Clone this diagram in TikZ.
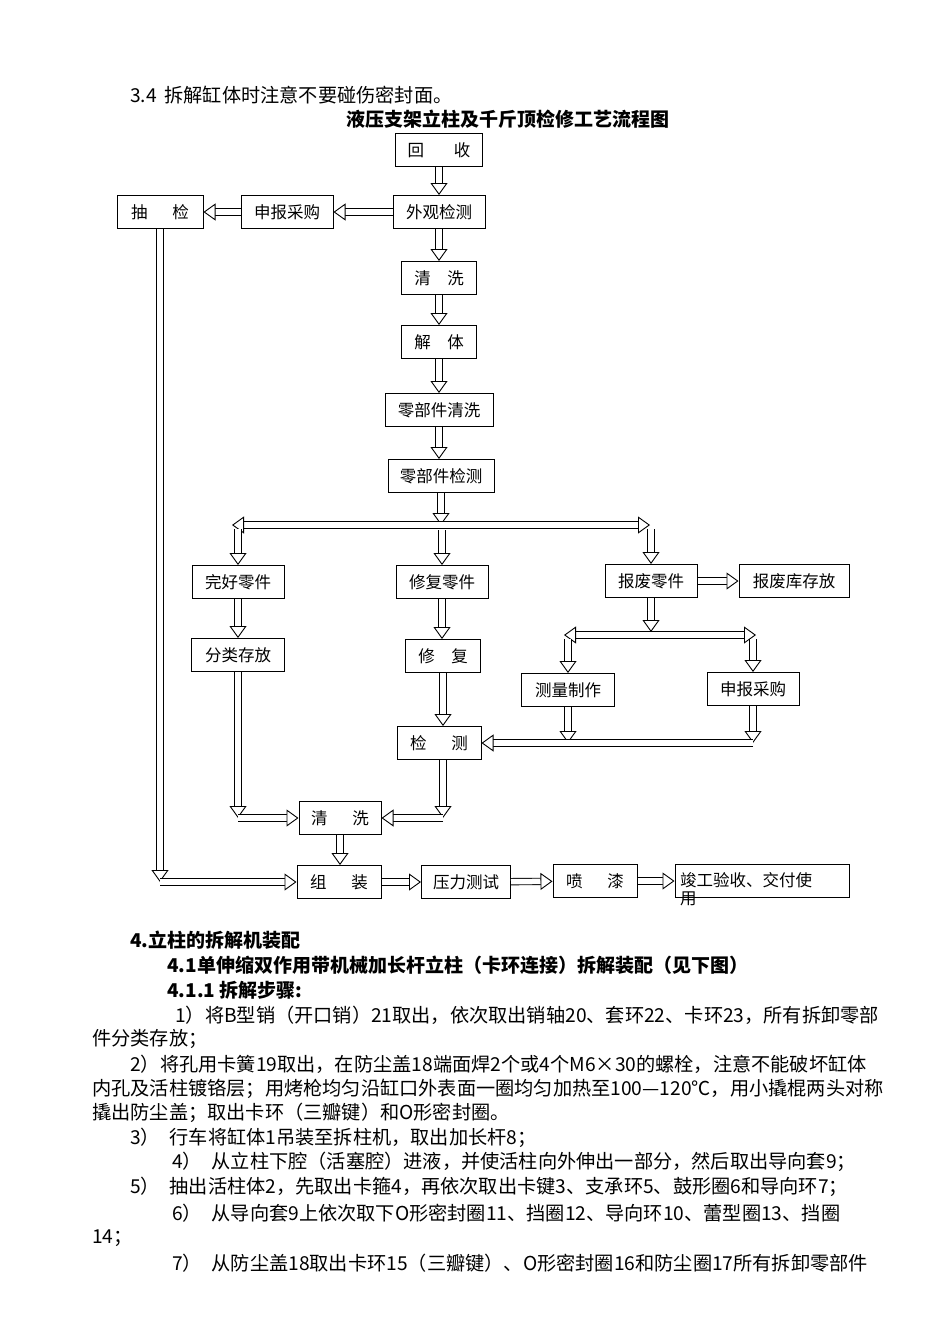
\documentclass[tikz,border=0pt]{standalone}
\usepackage{fontspec}
\setmainfont{Noto Sans CJK SC}
\usepackage{tikz}
\usetikzlibrary{arrows.meta, positioning}

\begin{document}
\begin{tikzpicture}[x=1pt, y=-1pt,
            >={Triangle[open, fill=white, line width=0.9pt, length=12pt, width=17pt]},
            box/.style={draw, line width=1pt, minimum height=33pt, inner sep=2pt, font=\fontsize{16.5}{20}\selectfont},
            harrow/.style={double, double distance=5.5pt, line width=0.9pt, ->},
            hharrow/.style={double, double distance=5.5pt, line width=0.9pt, <->},
            para/.style={anchor=west, inner sep=0pt, font=\fontsize{19.2}{25}\selectfont},
            head/.style={para, font=\bfseries\fontsize{19}{25}\selectfont},
        ]
        \fill[white] (0,0) rectangle (950,1344);
        \useasboundingbox (0,0) rectangle (950,1344);
        % text above
        \node[para] (t34) at (130,95) {3.4\hspace{0.4em}拆解缸体时注意不要碰伤密封面。};
        \node[font=\bfseries\fontsize{19}{23}\selectfont] (title) at (508,119) {液压支架立柱及千斤顶检修工艺流程图};
        % main column
        \node[box, minimum width=87pt] (huishou) at (439,150) {回\hspace{1.8em}收};
        \node[box, minimum width=92pt] (waiguan) at (439,212) {外观检测};
        \node[box, minimum width=92pt] (shenbaoA) at (287,212) {申报采购};
        \node[box, minimum width=86pt] (choujian) at (160,212) {抽\hspace{1.5em}检};
        \node[box, minimum width=75pt] (qingxiA) at (439,278) {清\hspace{1em}洗};
        \node[box, minimum width=75pt] (jieti) at (439,342) {解\hspace{1em}体};
        \node[box, minimum width=108pt] (ljqingxi) at (439,410) {零部件清洗};
        \node[box, minimum width=106pt] (ljjiance) at (441,476) {零部件检测};
        % branches
        \node[box, minimum width=92pt] (wanhao) at (238,582) {完好零件};
        \node[box, minimum width=92pt] (xiufulj) at (442,582) {修复零件};
        \node[box, minimum width=92pt] (baofei) at (651,581) {报废零件};
        \node[box, minimum width=110pt] (baofeiku) at (794,581) {报废库存放};
        \node[box, minimum width=93pt] (fenlei) at (238,655) {分类存放};
        \node[box, minimum width=75pt] (xiufu) at (443,656) {修\hspace{1em}复};
        \node[box, minimum width=93pt] (celiang) at (568,690) {测量制作};
        \node[box, minimum width=92pt] (shenbaoB) at (753,689) {申报采购};
        \node[box, minimum width=84pt] (jiance) at (439,743) {检\hspace{1.5em}测};
        \node[box, minimum width=82pt] (qingxiB) at (340,818) {清\hspace{1.5em}洗};
        % bottom row
        \node[box, minimum width=84pt] (zuzhuang) at (339,882) {组\hspace{1.5em}装};
        \node[box, minimum width=89pt] (yali) at (466,882) {压力测试};
        \node[box, minimum width=84pt] (penqi) at (595,881) {喷\hspace{1.5em}漆};
        \node[box, minimum width=174pt, text width=164pt, align=left] (jungong) at (762,881)
            {\raisebox{-0.65em}{\smash{\begin{tabular}[t]{@{}l@{}}竣工验收、交付使\\[-2pt]用\end{tabular}}}};
        % forks
        \coordinate (forkA) at (441,525);
        \coordinate (forkAl) at (232,525);
        \coordinate (forkAr) at (650,525);
        \coordinate (forkB) at (651,632);
        \coordinate (forkBl) at (564,635);
        \coordinate (forkBr) at (756,635);

        % arrows main column
        \draw[harrow] (huishou) -- (waiguan);
        \draw[harrow] (waiguan) -- (shenbaoA);
        \draw[harrow] (shenbaoA) -- (choujian);
        \draw[harrow] (waiguan) -- (qingxiA);
        \draw[harrow] (qingxiA) -- (jieti);
        \draw[harrow] (jieti) -- (ljqingxi);
        \draw[harrow] (ljqingxi) -- (ljjiance.north -| ljqingxi);
        \draw[harrow] (ljjiance.south) -- (forkA);
        \draw[hharrow] (forkAl) -- (forkAr);
        \draw[harrow] (wanhao.north |- 0,529) -- (wanhao.north);
        \draw[harrow] (xiufulj.north |- 0,530) -- (xiufulj.north);
        \draw[harrow] (baofei.north |- 0,529) -- (baofei.north);
        % branches
        \draw[harrow] (wanhao) -- (fenlei);
        \draw[harrow] (xiufulj) -- (xiufulj |- xiufu.north);
        \draw[harrow] (xiufu) -- (xiufu |- jiance.north);
        \draw[harrow] (baofei) -- (baofeiku);
        \draw[harrow] (baofei) -- (forkB);
        \draw[hharrow] (forkBl) -- (forkBr);
        \draw[harrow] (celiang.north |- 0,639) -- (celiang.north);
        \draw[harrow] (shenbaoB.north |- 0,639) -- (shenbaoB.north);
        \draw[harrow] (celiang) -- (celiang |- jiance.east);
        \draw[harrow] (shenbaoB) -- (shenbaoB |- jiance.east);
        \draw[harrow] (shenbaoB |- jiance.east) -- (jiance);
        % to cleaning and assembly
        \draw[harrow] (fenlei) -- (fenlei |- qingxiB.west);
        \draw[harrow] (fenlei |- qingxiB.west) -- (qingxiB);
        \draw[harrow] (xiufu |- jiance.south) -- (xiufu |- qingxiB.east);
        \draw[harrow] (xiufu |- qingxiB.east) -- (qingxiB);
        \draw[harrow] (qingxiB) -- (qingxiB |- zuzhuang.north);
        \draw[harrow] (choujian) -- (choujian |- zuzhuang.west);
        \draw[harrow] (choujian |- zuzhuang.west) -- (zuzhuang);
        \draw[harrow] (zuzhuang) -- (yali);
        \draw[harrow] (yali) -- (penqi);
        \draw[harrow] (penqi) -- (jungong);

        % text below
        \node[head] (h4) at (130,940) {4.立柱的拆解机装配};
        \node[head] (h41) at (167,965) {4.1单伸缩双作用带机械加长杆立柱（卡环连接）拆解装配（见下图）};
        \node[head] (h411) at (167,990) {4.1.1 拆解步骤:};
        \node[para] (p1) at (175,1015) {1）将B型销（开口销）21取出，依次取出销轴20、套环22、卡环23，所有拆卸零部};
        \node[para] (p1b) at (92,1039) {件分类存放；};
        \node[para] (p2) at (130,1064) {2）将孔用卡簧19取出，在防尘盖18端面焊2个或4个M6×30的螺栓，注意不能破坏缸体};
        \node[para] (p2b) at (92,1089) {内孔及活柱镀铬层；用烤枪均匀沿缸口外表面一圈均匀加热至100—120℃，用小撬棍两头对称};
        \node[para] (p2c) at (92,1113) {撬出防尘盖；取出卡环（三瓣键）和O形密封圈。};
        \node[para] (p3) at (130,1138) {3）\hspace{0.5em}行车将缸体1吊装至拆柱机，取出加长杆8；};
        \node[para] (p4) at (172,1162) {4）\hspace{0.5em}从立柱下腔（活塞腔）进液，并使活柱向外伸出一部分，然后取出导向套9；};
        \node[para] (p5) at (130,1187) {5）\hspace{0.5em}抽出活柱体2，先取出卡箍4，再依次取出卡键3、支承环5、鼓形圈6和导向环7；};
        \node[para] (p6) at (172,1213) {6）\hspace{0.5em}从导向套9上依次取下O形密封圈11、挡圈12、导向环10、蕾型圈13、挡圈};
        \node[para] (p6b) at (92,1238) {14；};
        \node[para] (p7) at (172,1263) {7）\hspace{0.5em}从防尘盖18取出卡环15（三瓣键）、O形密封圈16和防尘圈17所有拆卸零部件};
\end{tikzpicture}
\end{document}
